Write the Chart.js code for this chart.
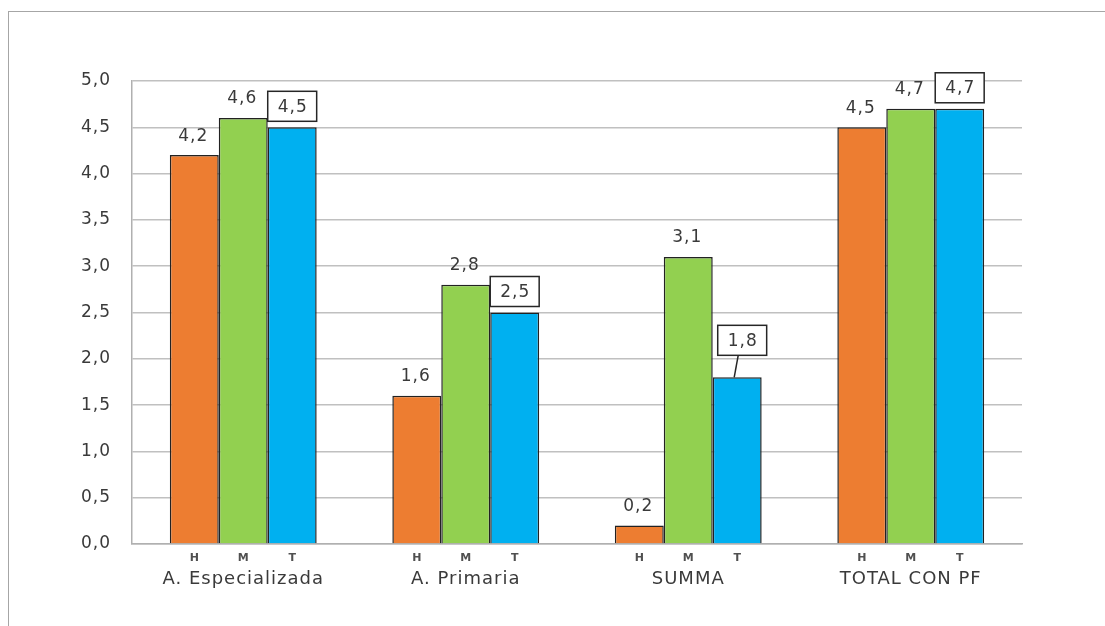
<!DOCTYPE html>
<html>
<head>
<meta charset="utf-8">
<script src="https://cdn.jsdelivr.net/npm/chart.js@4/dist/chart.umd.min.js"></script>
<style>
  html, body { margin: 0; padding: 0; background: #fff; overflow: hidden; }
  #frame { position: absolute; left: 8px; top: 11px; width: 1120px; height: 640px;
           border: 1.5px solid #a6a6a6; box-sizing: border-box; }
  #wrap { position: absolute; left: 0; top: 0; width: 1105px; height: 626px; }
</style>
</head>
<body>
<div id="frame"></div>
<div id="wrap"><canvas id="chart"></canvas></div>
<script>
const categories = ['A. Especializada', 'A. Primaria', 'SUMMA', 'TOTAL CON PF'];
const seriesNames = ['H', 'M', 'T'];
const valuesH = [4.2, 1.6, 0.2, 4.5];
const valuesM = [4.6, 2.8, 3.1, 4.7];
const valuesT = [4.5, 2.5, 1.8, 4.7];
const yTicks = [0, 0.5, 1, 1.5, 2, 2.5, 3, 3.5, 4, 4.5, 5];

const colors = ['#ED7D31', '#92D050', '#00B0F0'];
const textColor = '#3a3a3a';
const valueFont = '17px "DejaVu Sans"';
// SUMMA's T callout sits higher, with a leader line down to its bar
const calloutLift = { 2: 16 };

const fmt = v => v.toFixed(1).replace('.', ',');

// slightly wider text everywhere
const spacing = {
  id: 'spacing',
  beforeDraw(chart) { chart.ctx.letterSpacing = '1px'; }
};

const valueLabels = {
  id: 'valueLabels',
  afterDatasetsDraw(chart) {
    const ctx = chart.ctx;
    ctx.save();
    ctx.letterSpacing = '1px';
    ctx.font = valueFont;
    ctx.textAlign = 'center';
    ctx.textBaseline = 'middle';
    chart.data.datasets.forEach((ds, di) => {
      const meta = chart.getDatasetMeta(di);
      meta.data.forEach((bar, i) => {
        const text = fmt(ds.data[i]);
        if (di < 2) {
          ctx.fillStyle = textColor;
          ctx.fillText(text, bar.x - 1, bar.y - 19);
        } else {
          const lift = calloutLift[i] || 0;
          const w = bar.width;
          const h = 30;
          const shift = lift ? 5 : 0;
          const bottom = bar.y - 6 - lift;
          const left = bar.x - w / 2 + shift;
          ctx.fillStyle = '#fff';
          ctx.fillRect(left, bottom - h, w, h);
          ctx.strokeStyle = '#262626';
          ctx.lineWidth = 1.5;
          ctx.strokeRect(left, bottom - h, w, h);
          ctx.fillStyle = textColor;
          ctx.fillText(text, left + w / 2 + 0.5, bottom - h / 2 + 1);
          if (lift) {
            ctx.beginPath();
            ctx.moveTo(bar.x + 1, bottom);
            ctx.lineTo(bar.x - 3, bar.y);
            ctx.stroke();
          }
        }
      });
      // series letter under each bar
      ctx.save();
      ctx.letterSpacing = '0px';
      ctx.font = 'bold 11px "DejaVu Sans"';
      ctx.fillStyle = '#505050';
      const area = chart.chartArea;
      meta.data.forEach(bar => {
        ctx.fillText(seriesNames[di], bar.x, area.bottom + 14);
      });
      ctx.restore();
    });
    ctx.restore();
  }
};

const ctx = document.getElementById('chart').getContext('2d');
new Chart(ctx, {
  type: 'bar',
  data: {
    labels: categories,
    datasets: [valuesH, valuesM, valuesT].map((vals, i) => ({
      label: seriesNames[i],
      data: vals,
      backgroundColor: colors[i],
      borderColor: '#222',
      borderWidth: 1.5,
      categoryPercentage: 0.66,
      barPercentage: 1
    }))
  },
  options: {
    responsive: true,
    maintainAspectRatio: false,
    animation: false,
    layout: { padding: { left: 0, top: 81, right: 83, bottom: 0 } },
    plugins: {
      legend: { display: false },
      tooltip: { enabled: false }
    },
    scales: {
      x: {
        grid: { display: false, drawTicks: false },
        border: { display: true, color: '#b0b0b0', width: 1.5 },
        ticks: {
          padding: 25,
          color: textColor,
          font: { family: '"DejaVu Sans"', size: 18 }
        },
        afterFit: s => { s.height = 82; }
      },
      y: {
        min: 0,
        max: 5,
        afterBuildTicks: s => { s.ticks = yTicks.map(v => ({ value: v })); },
        grid: { color: '#c0c0c0', lineWidth: 1.5, drawTicks: false },
        border: { display: true, color: '#b0b0b0', width: 1.5 },
        ticks: {
          padding: 21,
          color: textColor,
          font: { family: '"DejaVu Sans"', size: 17 },
          callback: v => fmt(v)
        },
        afterFit: s => { s.width = 132; }
      }
    }
  },
  plugins: [spacing, valueLabels]
});
</script>
</body>
</html>
